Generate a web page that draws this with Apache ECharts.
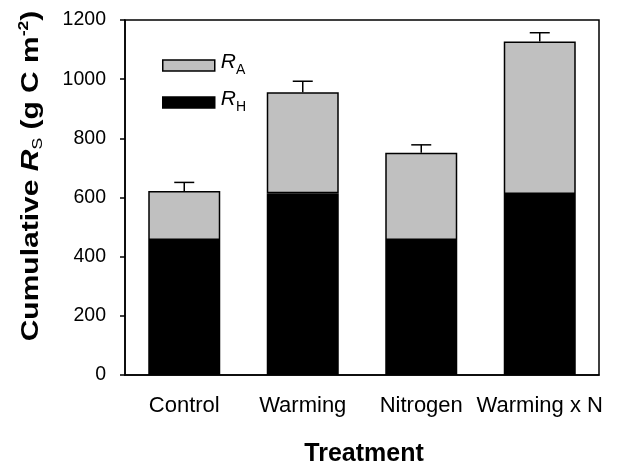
<!DOCTYPE html>
<html>
<head>
<meta charset="utf-8">
<script src="https://cdn.jsdelivr.net/npm/echarts@6/dist/echarts.min.js"></script>
<style>html,body{margin:0;padding:0;background:#fff}#c{width:618px;height:467px}</style>
</head>
<body>
<div id="c"></div>
<script>
var categories = ['Control', 'Warming', 'Nitrogen', 'Warming x N'];
var rhValues = [456, 614, 456, 612];
var raValues = [166, 342, 295, 515];
var errValues = [29, 37, 27, 30];
var yTicks = [0, 200, 400, 600, 800, 1000, 1200];

var totals = rhValues.map(function (v, i) { return v + raValues[i]; });
var FONT = 'Arial, "Liberation Sans", sans-serif';

var chart = echarts.init(document.getElementById('c'), null, { renderer: 'canvas' });

function legendRich() {
  return {
    r: { fontFamily: FONT, fontStyle: 'italic', fontSize: 21, color: '#000', lineHeight: 24, verticalAlign: 'middle', padding: [0, 0, 6, 1] },
    s: { fontFamily: FONT, fontSize: 14, color: '#000', lineHeight: 12, verticalAlign: 'bottom' }
  };
}

var option = {
  animation: false,
  backgroundColor: '#fff',
  grid: { left: 125, right: 19, top: 20, bottom: 92, show: true, borderColor: '#000', borderWidth: 1.5, backgroundColor: 'transparent' },
  legend: [
    {
      data: [{ name: 'RA' }], left: 157, top: 47, itemWidth: 52, itemHeight: 11, icon: 'rect',
      itemStyle: { borderColor: '#000', borderWidth: 1.5 },
      formatter: function () { return '{r|R}{s|A}'; },
      textStyle: { rich: legendRich() }, selectedMode: false
    },
    {
      data: [{ name: 'RH' }], left: 157, top: 84, itemWidth: 52, itemHeight: 11, icon: 'rect',
      itemStyle: { borderColor: '#000', borderWidth: 1.5 },
      formatter: function () { return '{r|R}{s|H}'; },
      textStyle: { rich: legendRich() }, selectedMode: false
    }
  ],
  xAxis: {
    type: 'category',
    data: categories,
    axisLine: { lineStyle: { color: '#000', width: 1.5 } },
    axisTick: { alignWithLabel: true, length: 5, lineStyle: { color: '#000', width: 1.5 } },
    axisLabel: { interval: 0, color: '#000', fontFamily: FONT, fontSize: 22, margin: 20 }
  },
  yAxis: {
    type: 'value',
    min: 0, max: 1200, interval: 200,
    splitLine: { show: false },
    axisLine: { show: true, lineStyle: { color: '#000', width: 1.5 } },
    axisTick: { show: true, length: 5, lineStyle: { color: '#000', width: 1.5 } },
    axisLabel: { color: '#000', fontFamily: FONT, fontSize: 19.5, margin: 19,
      formatter: function (v) { return yTicks.indexOf(v) >= 0 ? String(v) : ''; } }
  },
  series: [
    {
      name: 'RH', type: 'bar', stack: 'rs', data: rhValues, barWidth: 72,
      itemStyle: { color: '#000', borderColor: '#000', borderWidth: 1.5 }
    },
    {
      name: 'RA', type: 'bar', stack: 'rs', data: raValues, barWidth: 72,
      itemStyle: { color: '#c0c0c0', borderColor: '#000', borderWidth: 1.5 }
    },
    {
      name: 'err', type: 'custom', z: 5,
      data: totals.map(function (t, i) { return [i, t, t + errValues[i]]; }),
      renderItem: function (params, api) {
        var p0 = api.coord([api.value(0), api.value(1)]);
        var p1 = api.coord([api.value(0), api.value(2)]);
        var half = 10;
        return {
          type: 'group',
          children: [
            { type: 'line', shape: { x1: p0[0], y1: p0[1], x2: p1[0], y2: p1[1] }, style: { stroke: '#000', lineWidth: 1.5 } },
            { type: 'line', shape: { x1: p1[0] - half, y1: p1[1], x2: p1[0] + half, y2: p1[1] }, style: { stroke: '#000', lineWidth: 1.5 } }
          ]
        };
      }
    }
  ],
  graphic: [
    {
      type: 'text', x: 31, y: 176, rotation: Math.PI / 2, scaleX: 1.25, scaleY: 1,
      style: {
        text: '{b|Cumulative }{i|R}{s|S}{b| (g C m}{p|-2}{b|)}',
        align: 'center', verticalAlign: 'middle',
        rich: {
          b: { fontFamily: FONT, fontWeight: 'bold', fontSize: 24, color: '#000', lineHeight: 28, verticalAlign: 'middle' },
          i: { fontFamily: FONT, fontWeight: 'bold', fontStyle: 'italic', fontSize: 24, color: '#000', lineHeight: 28, verticalAlign: 'middle' },
          s: { fontFamily: FONT, fontSize: 14, color: '#000', lineHeight: 14, verticalAlign: 'bottom' },
          p: { fontFamily: FONT, fontWeight: 'bold', fontSize: 14, color: '#000', lineHeight: 14, verticalAlign: 'top' }
        }
      }
    },
    {
      type: 'text', x: 364, y: 454,
      style: { text: 'Treatment', fontFamily: FONT, fontWeight: 'bold', fontSize: 25, fill: '#000', align: 'center', verticalAlign: 'middle' }
    }
  ]
};
chart.setOption(option);
</script>
</body>
</html>
